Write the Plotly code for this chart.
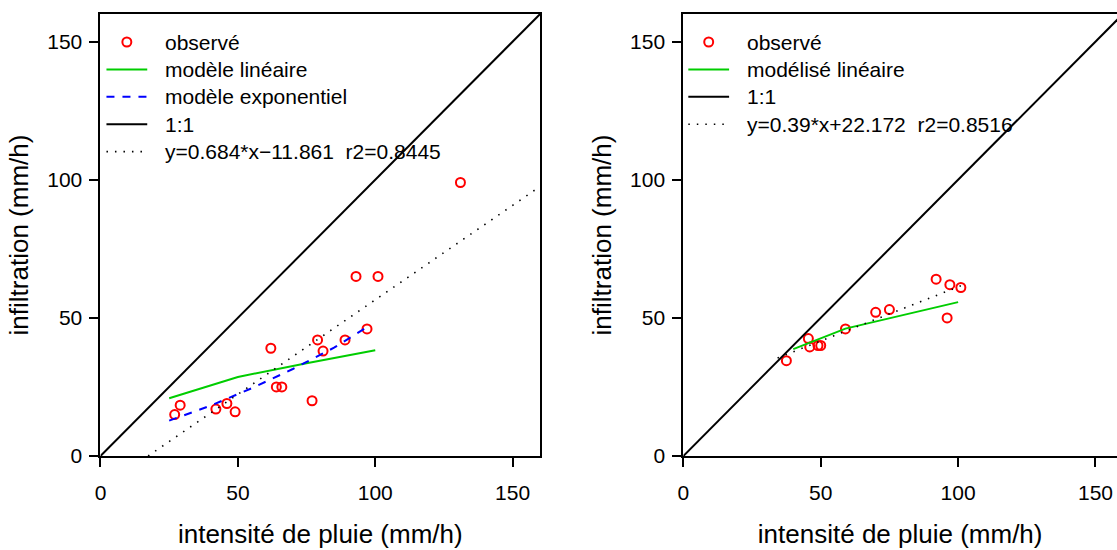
import plotly.graph_objects as go

FONT = "Liberation Sans, Arial, Helvetica, sans-serif"
W, H = 1117, 550
MT, MB = 14, 94
PH = H - MT - MB

# ---------------- data: left panel ----------------
obs1_x = [131, 93, 101, 97, 79, 89, 81, 62, 64, 66, 77, 29, 27, 42, 46, 49]
obs1_y = [99, 65, 65, 46, 42, 42, 38, 39, 25, 25, 20, 18.4, 15, 17, 19, 16]
lin1_x = [25, 50, 75, 100]
lin1_y = [20.9, 28.6, 33.6, 38.3]
exp1_x = [25, 40, 55, 70, 85, 98]
exp1_y = [12.8, 18.2, 24.5, 31.5, 39.2, 47.3]
reg1_x = [17.34, 160]
reg1_y = [0, 97.58]
one_x = [0, 160]
one_y = [0, 160]

# ---------------- data: right panel ----------------
obs2_x = [37.5, 45.5, 46, 49, 50, 59, 70, 75, 92, 97, 101, 96]
obs2_y = [34.5, 42.5, 39.5, 40, 40, 46, 52, 53, 64, 62, 61, 50]
lin2_x = [40, 59, 100]
lin2_y = [38.7, 46.1, 55.7]
reg2_x = [34.3, 101]
reg2_y = [35.5, 61.6]

tick_vals = [0, 50, 100, 150]
tick_text = ["0", "50", "100", "150"]

labels1 = ["observé", "modèle linéaire", "modèle exponentiel", "1:1",
           "y=0.684*x\u221211.861\u00a0 r2=0.8445"]
labels2 = ["observé", "modélisé linéaire", "1:1",
           "y=0.39*x+22.172\u00a0 r2=0.8516"]

RED = "#FF0000"
GREEN = "#00CD00"
BLUE = "#0000FF"
DOT = "1.5px,7px"
DASH = "8px,8px"

fig = go.Figure()

def marker_trace(x, y, name, xa, ya):
    return go.Scatter(x=x, y=y, mode="markers", name=name, xaxis=xa, yaxis=ya, showlegend=False,
                      marker=dict(symbol="circle-open", size=9, color=RED, line=dict(width=2, color=RED)))

def line_trace(x, y, name, xa, ya, color, width, dash="solid"):
    return go.Scatter(x=x, y=y, mode="lines", name=name, xaxis=xa, yaxis=ya, showlegend=False,
                      line=dict(color=color, width=width, dash=dash))

# left
fig.add_trace(marker_trace(obs1_x, obs1_y, labels1[0], "x", "y"))
fig.add_trace(line_trace(lin1_x, lin1_y, labels1[1], "x", "y", GREEN, 2))
fig.add_trace(line_trace(exp1_x, exp1_y, labels1[2], "x", "y", BLUE, 2, DASH))
fig.add_trace(line_trace(one_x, one_y, labels1[3], "x", "y", "black", 2))
fig.add_trace(line_trace(reg1_x, reg1_y, labels1[4], "x", "y", "black", 1.6, DOT))
# right
fig.add_trace(marker_trace(obs2_x, obs2_y, labels2[0], "x2", "y2"))
fig.add_trace(line_trace(lin2_x, lin2_y, labels2[1], "x2", "y2", GREEN, 2))
fig.add_trace(line_trace(one_x, one_y, labels2[2], "x2", "y2", "black", 2))
fig.add_trace(line_trace(reg2_x, reg2_y, labels2[3], "x2", "y2", "black", 1.6, DOT))

axis_common = dict(
    tickmode="array", tickvals=tick_vals, ticktext=tick_text,
    ticks="outside", ticklen=9, tickwidth=2, tickcolor="black",
    showline=True, linewidth=2, linecolor="black",
    showgrid=False, zeroline=False,
    tickfont=dict(family=FONT, size=21, color="black"),
)

L0, L1 = 95 / W, 537 / W
R0 = 681 / W
scale = (L1 - L0) * W / 160.0
r_max = (W - 681) / scale

xtitle = dict(text="intensité de pluie (mm/h)", font=dict(family=FONT, size=26, color="black"), standoff=22)
ytitle = dict(text="infiltration (mm/h)", font=dict(family=FONT, size=26, color="black"), standoff=11)

# ---------------- manual legends (R-style) ----------------
ROWS = [42, 69.4, 96.8, 124.2, 151.6]
shapes = []
annotations = []

def py(pix):
    # pixel row (from top of figure) -> paper y
    return 1 - (pix - MT) / PH

def legend_block(x_line0, x_text, entries):
    for i, (label, kind, color, width, dash) in enumerate(entries):
        row = ROWS[i]
        if kind == "marker":
            cx = x_line0 + 20.5
            r = 4.5
            shapes.append(dict(type="circle", xref="paper", yref="paper",
                               x0=(cx - r) / W, x1=(cx + r) / W,
                               y0=py(row + r), y1=py(row - r),
                               line=dict(color=color, width=2)))
        else:
            shapes.append(dict(type="line", xref="paper", yref="paper",
                               x0=x_line0 / W, x1=(x_line0 + 41) / W, y0=py(row), y1=py(row),
                               line=dict(color=color, width=width, dash=dash)))
        annotations.append(dict(text=label, xref="paper", yref="paper", x=x_text / W, y=py(row),
                                xanchor="left", yanchor="middle", showarrow=False,
                                font=dict(family=FONT, size=21, color="black")))

legend_block(101, 158, [
    (labels1[0], "marker", RED, 2, "solid"),
    (labels1[1], "line", GREEN, 2, "solid"),
    (labels1[2], "line", BLUE, 2, DASH),
    (labels1[3], "line", "black", 2, "solid"),
    (labels1[4], "line", "black", 1.6, DOT),
])
legend_block(686, 743, [
    (labels2[0], "marker", RED, 2, "solid"),
    (labels2[1], "line", GREEN, 2, "solid"),
    (labels2[2], "line", "black", 2, "solid"),
    (labels2[3], "line", "black", 1.6, DOT),
])

fig.update_layout(
    width=W, height=H,
    margin=dict(l=0, r=0, t=MT, b=MB),
    paper_bgcolor="white", plot_bgcolor="white",
    font=dict(family=FONT, color="black"),
    xaxis=dict(domain=[L0, L1], range=[0, 160], mirror=True, anchor="y", title=xtitle,
               ticklabelstandoff=8, **axis_common),
    yaxis=dict(domain=[0, 1], range=[0, 160], mirror=True, anchor="x", title=ytitle,
               ticklabelstandoff=3, **axis_common),
    xaxis2=dict(domain=[R0, 1], range=[0, r_max], mirror=True, anchor="y2", title=xtitle,
                ticklabelstandoff=8, **axis_common),
    yaxis2=dict(domain=[0, 1], range=[0, 160], mirror=False, anchor="x2", title=ytitle,
                ticklabelstandoff=3, **axis_common),
    shapes=shapes,
    annotations=annotations,
    showlegend=False,
)

fig.write_html("out.html", config={"displayModeBar": False},
               post_script="document.body.style.margin='0px';")
